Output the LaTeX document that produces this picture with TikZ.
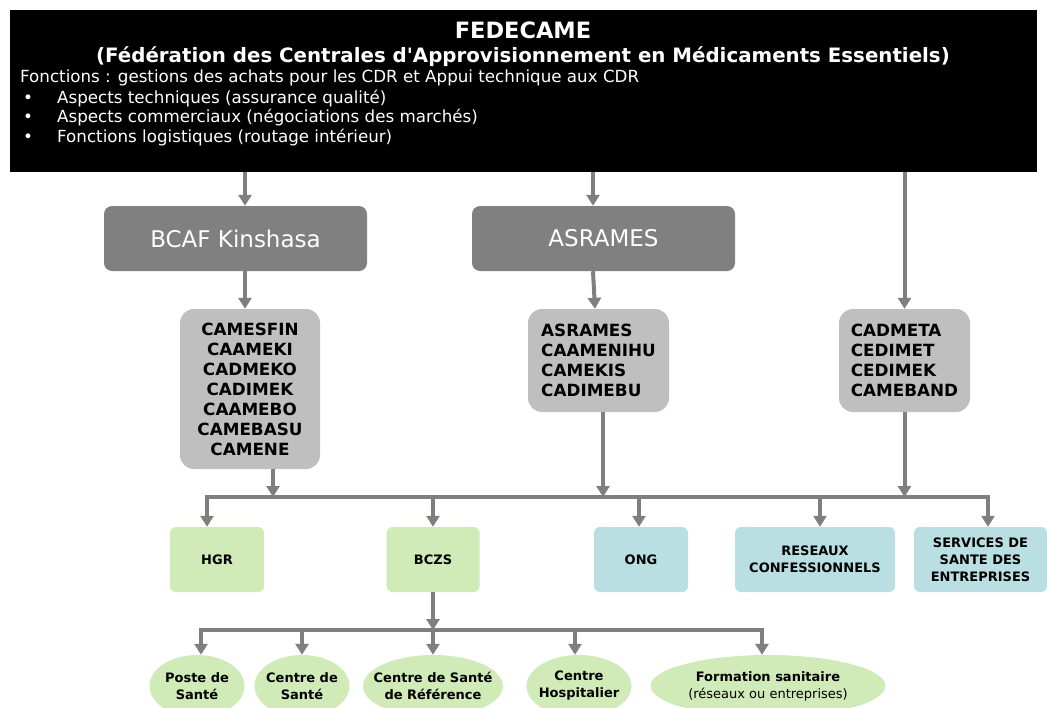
\documentclass[tikz,border=0pt]{standalone}
\usepackage{fontspec}
\setmainfont{DejaVu Sans}
\usetikzlibrary{arrows.meta,shapes.geometric}
\definecolor{grisfonce}{HTML}{808080}
\definecolor{grisclair}{HTML}{BFBFBF}
\definecolor{vertpale}{HTML}{D0EAB8}
\definecolor{bleupale}{HTML}{B9DFE2}
\definecolor{fleche}{HTML}{7F7F7F}

\begin{document}
\begin{tikzpicture}[x=1pt,y=-1pt,
	fl/.style={draw=fleche,line width=4pt,-{Triangle[width=13pt,length=11pt]}},
	fedbox/.style={fill=black,minimum width=1027pt,minimum height=162pt,inner sep=0pt},
	blanc/.style={text=white,inner sep=0pt},
	fonc/.style={blanc,anchor=west,font=\fontsize{16.7}{20}\selectfont},
	bcaf/.style={fill=grisfonce,rounded corners=8pt,minimum width=263pt,minimum height=65pt,text=white,font=\fontsize{23}{27}\selectfont},
	liste/.style={fill=grisclair,rounded corners=14pt,inner sep=0pt,font=\fontsize{16.8}{20}\selectfont\bfseries},
	vert/.style={fill=vertpale,rounded corners=6pt,minimum height=65pt,inner sep=0pt,font=\fontsize{13}{17}\selectfont\bfseries,align=center},
	bleu/.style={vert,fill=bleupale},
	ovale/.style={ellipse,fill=vertpale,minimum height=62pt,inner xsep=-10pt,inner ysep=0pt,font=\fontsize{13}{17}\selectfont\bfseries,align=center}]
		\path[use as bounding box,clip] (0,0) rectangle (1047,707);
		\node[fedbox] (fed) at (523.5,91) {};
		\node[blanc,font=\fontsize{22.5}{26}\selectfont\bfseries] (titre) at (523,30) {FEDECAME};
		\node[blanc,font=\fontsize{19.8}{23}\selectfont\bfseries] (soustitre) at (523,57) {(Fédération des Centrales d\textquotesingle Approvisionnement en Médicaments Essentiels)};
		\node[fonc] (fonctions) at (20,78) {Fonctions : gestions des achats pour les CDR et Appui technique aux CDR};
		\foreach \y/\txt [count=\i] in {99/Aspects techniques (assurance qualité),118/Aspects commerciaux (négociations des marchés),138/Fonctions logistiques (routage intérieur)}{
			\node[fonc] (puce\i) at (23,\y) {•};
			\node[fonc] (point\i) at (57,\y) {\txt};
		}
		\node[bcaf] (bcaf) at (235.5,238.5) {BCAF Kinshasa};
		\node[bcaf] (asr) at (603.5,238.5) {ASRAMES};
		\node[liste,minimum width=140pt,minimum height=160pt,align=center] (l1) at (250,389) {CAMESFIN\\CAAMEKI\\CADMEKO\\CADIMEK\\CAAMEBO\\CAMEBASU\\CAMENE};
		\node[liste,minimum width=141pt,minimum height=103pt,align=left] (l2) at (598.5,360.5) {ASRAMES\\CAAMENIHU\\CAMEKIS\\CADIMEBU};
		\node[liste,minimum width=131pt,minimum height=103pt,align=left] (l3) at (904.5,360.5) {CADMETA\\CEDIMET\\CEDIMEK\\CAMEBAND};
		\node[vert,minimum width=94pt] (hgr) at (217,559.5) {HGR};
		\node[vert,minimum width=93pt] (bczs) at (433,559.5) {BCZS};
		\node[bleu,minimum width=94pt] (ong) at (641,559.5) {ONG};
		\node[bleu,minimum width=160pt] (res) at (815,559.5) {RESEAUX\\CONFESSIONNELS};
		\node[bleu,minimum width=133pt] (ser) at (980.5,559.5) {SERVICES DE\\SANTE DES\\ENTREPRISES};
		\node[ovale,minimum width=95pt] (ps) at (197,686) {Poste de\\Santé};
		\node[ovale,minimum width=95pt] (cs) at (302,686) {Centre de\\Santé};
		\node[ovale,minimum width=140pt] (csr) at (433,686) {Centre de Santé\\de Référence};
		\node[ovale,minimum width=105pt] (ch) at (579,686) {Centre\\Hospitalier};
		\node[ovale,minimum width=235pt] (fs) at (768,686) {Formation sanitaire\\{\mdseries(réseaux ou entreprises)}};
		\coordinate (bus) at (603,497);
		\coordinate (bus2) at (433,630);
		\draw[fl] (fed.south -| 245,0) -- (bcaf.north -| 245,0);
		\draw[fl] (fed.south -| 593,0) -- (asr.north -| 593,0);
		\draw[fl] (fed.south -| l3.north) -- (l3.north);
		\draw[fl] (bcaf.south -| 245,0) -- (l1.north -| 245,0);
		\draw[fl] (asr.south -| 593,0) -- (l2.north -| 595,0);
		\draw[fl] (l1.south -| 273,0) -- (bus -| 273,0);
		\draw[fl] (l2.south -| bus) -- (bus);
		\draw[fl] (l3.south) -- (bus -| l3.south);
		\draw[fl] (bus) -| (hgr.north -| 207,0);
		\draw[fl] (bus) -| (ser.north -| 988,0);
		\draw[fl] (bus -| bczs.north) -- (bczs.north);
		\draw[fl] (bus -| 639,0) -- (ong.north -| 639,0);
		\draw[fl] (bus -| 820,0) -- (res.north -| 820,0);
		\draw[fl] (bczs.south) -- (bus2);
		\draw[fl] (bus2) -| (ps.north -| 201,0);
		\draw[fl] (bus2) -| (fs.north -| 762,0);
		\draw[fl] (bus2 -| cs.north) -- (cs.north);
		\draw[fl] (bus2) -- (csr.north);
		\draw[fl] (bus2 -| 575,0) -- (ch.north -| 575,0);
\end{tikzpicture}
\end{document}
